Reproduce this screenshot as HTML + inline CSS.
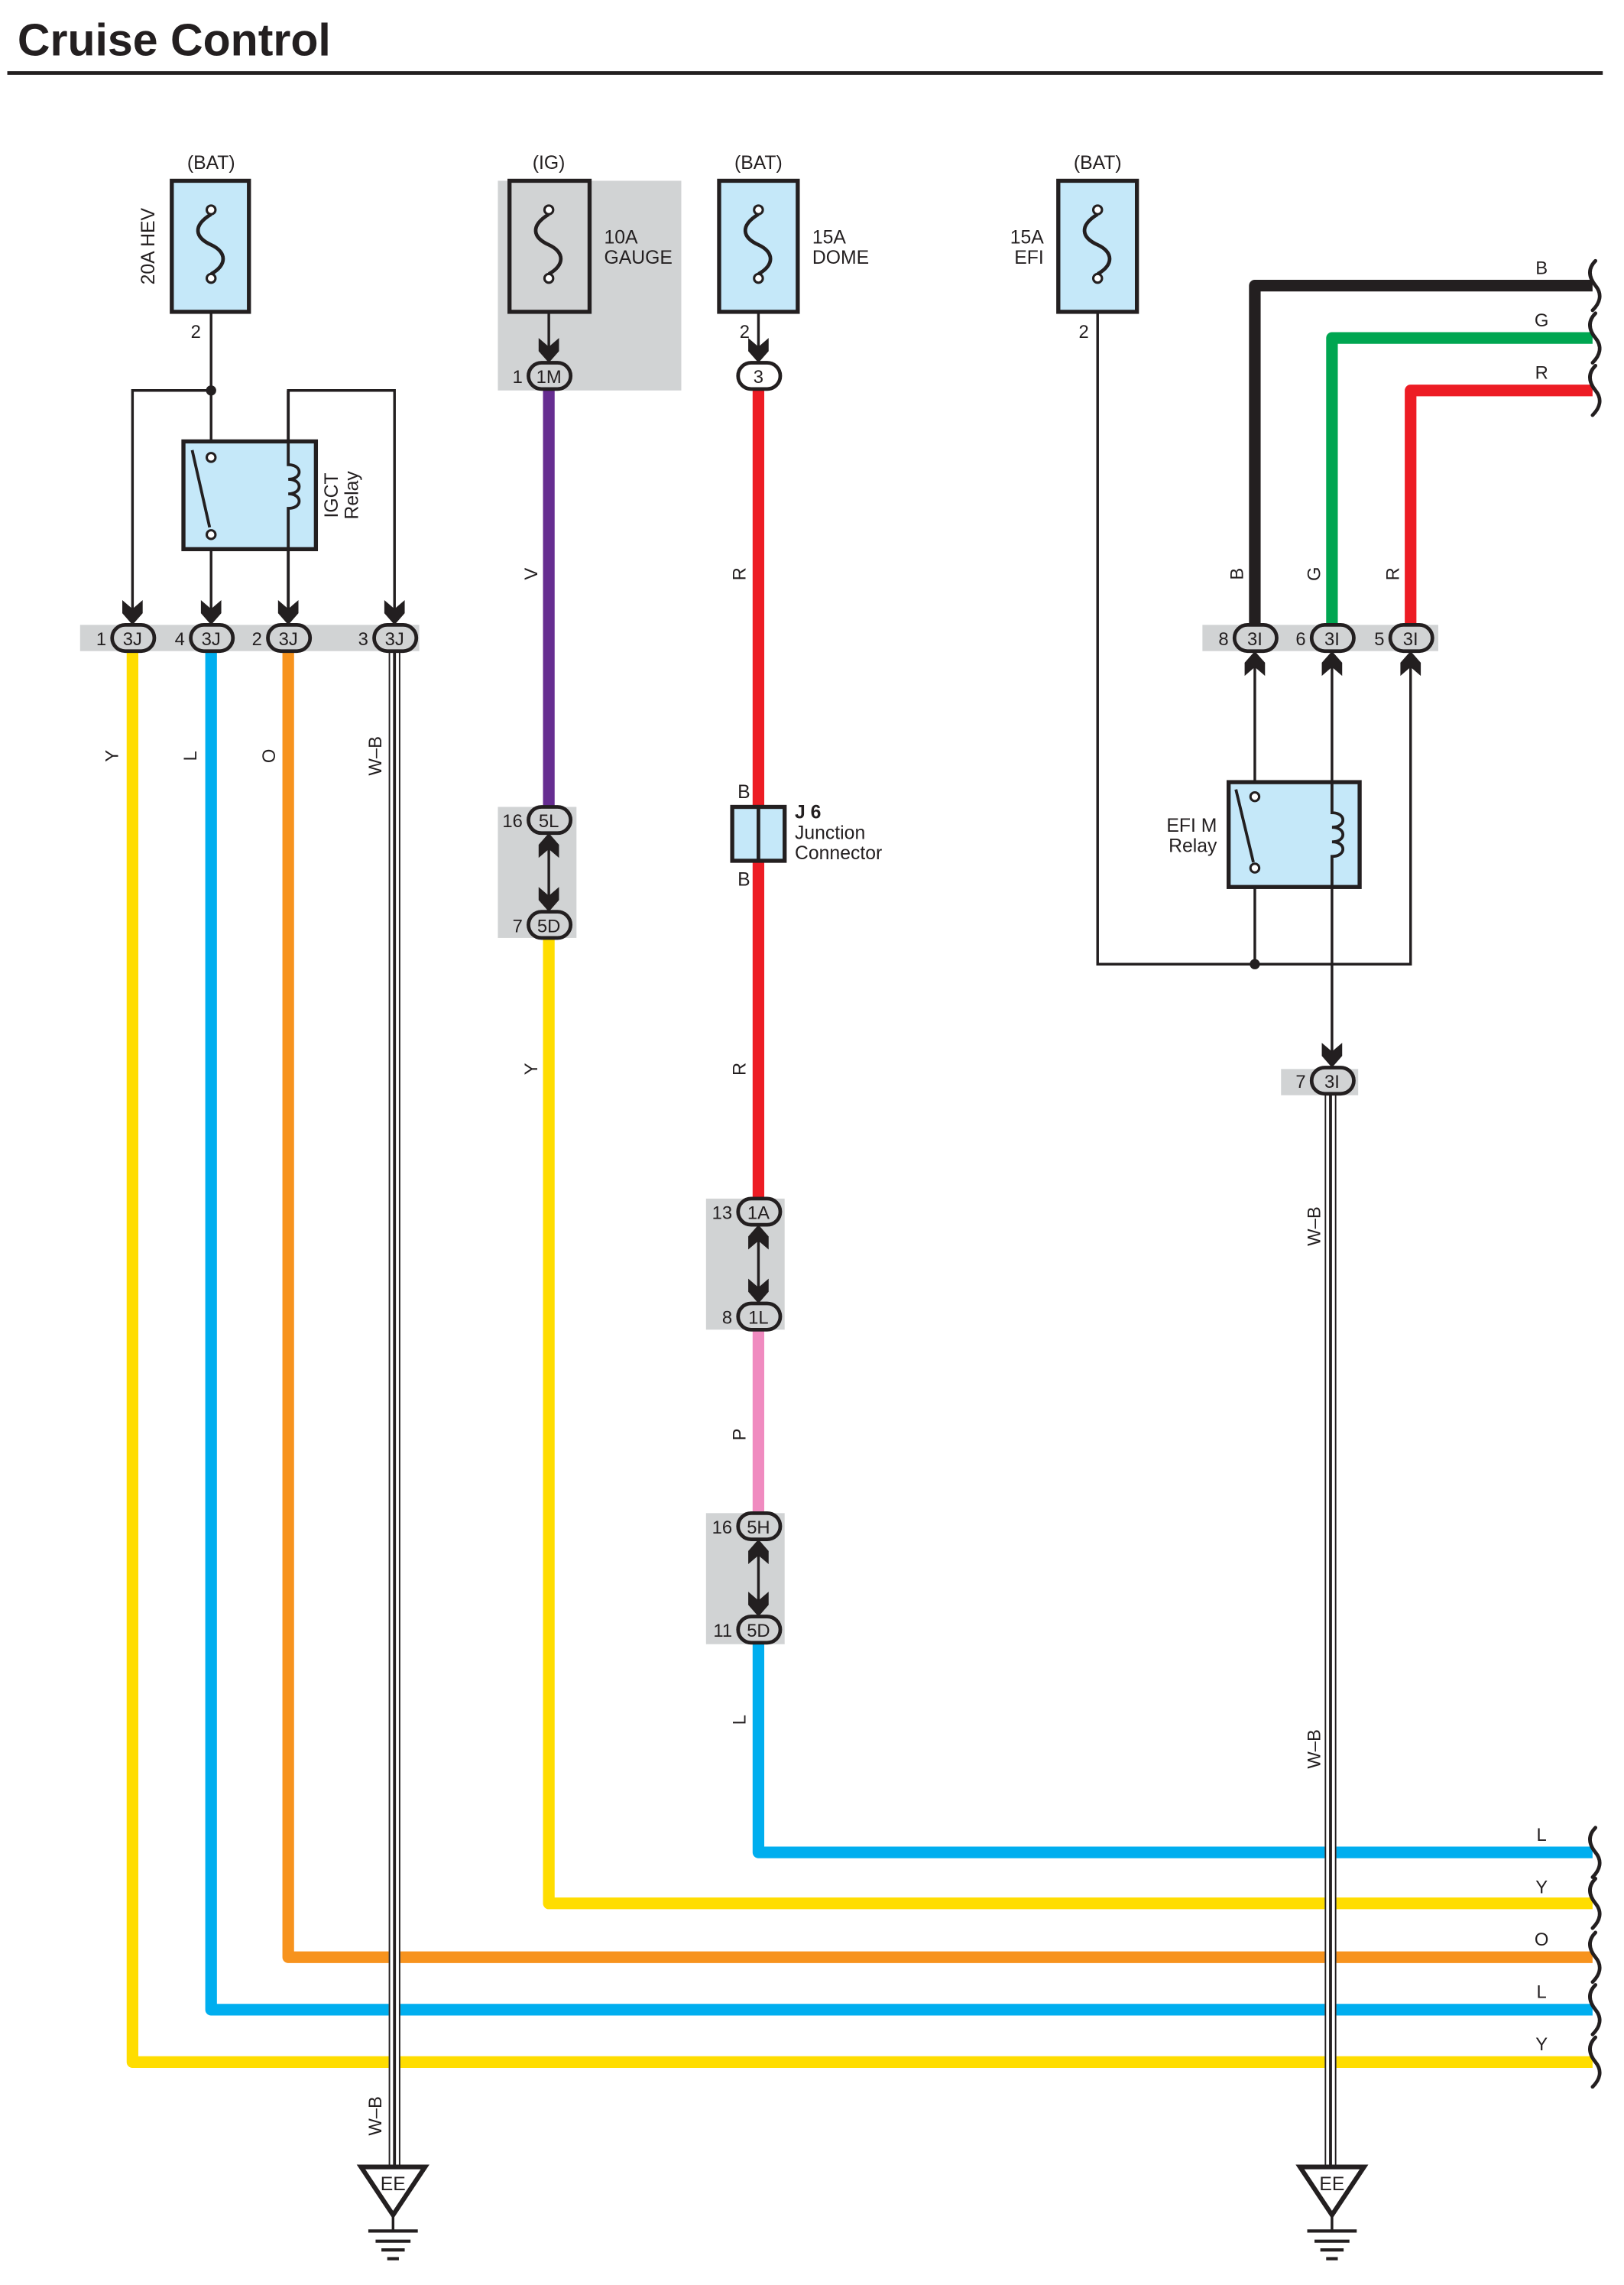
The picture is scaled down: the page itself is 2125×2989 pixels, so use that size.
<!DOCTYPE html>
<html><head><meta charset="utf-8"><style>
html,body{margin:0;padding:0;background:#fff;}
svg{display:block;}
text{font-family:"Liberation Sans",sans-serif;fill:#231f20;}
</style></head><body>
<svg width="2125" height="2989" viewBox="0 0 1100 1547" xmlns="http://www.w3.org/2000/svg">
<g transform="translate(1,1) scale(0.986)">
<text x="11" y="37" font-size="31" font-weight="bold">Cruise Control</text>
<line x1="4" y1="49" x2="1100" y2="49" stroke="#231f20" stroke-width="2.5"/>

<g font-size="13" text-anchor="middle">
<text x="144" y="115">(BAT)</text>
<text x="376" y="115">(IG)</text>
<text x="520" y="115">(BAT)</text>
<text x="753" y="115">(BAT)</text>
</g>

<rect x="341" y="123" width="126" height="144" fill="#d1d3d4"/>
<rect x="54" y="428" width="233" height="18" fill="#d1d3d4"/>
<rect x="825" y="428" width="162" height="18" fill="#d1d3d4"/>
<rect x="341" y="553" width="54" height="90" fill="#d1d3d4"/>
<rect x="484" y="822" width="54" height="90" fill="#d1d3d4"/>
<rect x="484" y="1038" width="54" height="90" fill="#d1d3d4"/>
<rect x="879" y="733" width="53" height="18" fill="#d1d3d4"/>

<g fill="none" stroke-width="8" stroke-linejoin="round" stroke-linecap="butt">
<path d="M90,446 V1415 H1093" stroke="#ffdd00"/>
<path d="M144,446 V1379 H1093" stroke="#00aeef"/>
<path d="M197,446 V1343 H1093" stroke="#f7931e"/>
<path d="M376,266 V555" stroke="#662d91"/>
<path d="M376,643 V1306 H1093" stroke="#ffdd00"/>
<path d="M520,266 V555 M520,590 V824" stroke="#ed1c24"/>
<path d="M520,912 V1040" stroke="#f08bc0"/>
<path d="M520,1128 V1271 H1093" stroke="#00aeef"/>
<path d="M861,428 V195 H1093" stroke="#231f20"/>
<path d="M914,428 V231 H1093" stroke="#00a651"/>
<path d="M968,428 V267 H1093" stroke="#ed1c24"/>
</g>

<g>
<rect x="266" y="446" width="8" height="1040" fill="#fff"/>
<line x1="266.5" y1="446" x2="266.5" y2="1486" stroke="#231f20" stroke-width="1"/>
<line x1="273.5" y1="446" x2="273.5" y2="1486" stroke="#231f20" stroke-width="1"/>
<line x1="270" y1="446" x2="270" y2="1486" stroke="#231f20" stroke-width="2"/>
<rect x="909" y="750" width="8" height="736" fill="#fff"/>
<line x1="909.5" y1="750" x2="909.5" y2="1486" stroke="#231f20" stroke-width="1"/>
<line x1="916.5" y1="750" x2="916.5" y2="1486" stroke="#231f20" stroke-width="1"/>
<line x1="913" y1="750" x2="913" y2="1486" stroke="#231f20" stroke-width="2"/>
</g>

<g fill="none" stroke="#231f20" stroke-width="1.8">
<path d="M144,190 V313"/>
<path d="M144,366 V420"/>
<path d="M90,420 V267 H144"/>
<path d="M197,420 V267 H270 V420"/>
<path d="M376,190 V240"/>
<path d="M520,190 V240"/>
<path d="M753,190 V661 H968 V455"/>
<path d="M861,661 V595"/>
<path d="M861,546 V455"/>
<path d="M914,446 V724"/>
<path d="M376,575 V620"/>
<path d="M520,843 V890"/>
<path d="M520,1059 V1105"/>
</g>
<circle cx="144" cy="267" r="3.5" fill="#231f20"/>
<circle cx="861" cy="661" r="3.5" fill="#231f20"/>

<g stroke="#231f20" stroke-width="2.8">
<rect x="117" y="123" width="53" height="90" fill="#c5e8f9"/>
<rect x="349" y="123" width="55" height="90" fill="#d1d3d4"/>
<rect x="493" y="123" width="54" height="90" fill="#c5e8f9"/>
<rect x="726" y="123" width="54" height="90" fill="#c5e8f9"/>
</g>
<g fill="none" stroke="#231f20" stroke-width="2.5">
<path d="M144,146 C131,154 133,162 144,167 C155,172 155,181 144,187"/>
<path d="M376,146 C363,154 365,162 376,167 C387,172 387,181 376,187"/>
<path d="M520,146 C507,154 509,162 520,167 C531,172 531,181 520,187"/>
<path d="M753,146 C740,154 742,162 753,167 C764,172 764,181 753,187"/>
</g>
<g fill="#fff" stroke="#231f20" stroke-width="1.6">
<circle cx="144" cy="143" r="3"/><circle cx="144" cy="190" r="3"/>
<circle cx="376" cy="143" r="3"/><circle cx="376" cy="190" r="3"/>
<circle cx="520" cy="143" r="3"/><circle cx="520" cy="190" r="3"/>
<circle cx="753" cy="143" r="3"/><circle cx="753" cy="190" r="3"/>
</g>

<rect x="125" y="302" width="91" height="74" fill="#c5e8f9" stroke="#231f20" stroke-width="2.8"/>
<path d="M197,267 V318 c10,0 10,10 0,10 c10,0 10,10 0,10 c10,0 10,10 0,10 V420" fill="none" stroke="#231f20" stroke-width="2"/>
<line x1="131" y1="308" x2="143" y2="361" stroke="#231f20" stroke-width="2"/>
<circle cx="144" cy="313" r="3" fill="#fff" stroke="#231f20" stroke-width="1.6"/>
<circle cx="144" cy="366" r="3" fill="#fff" stroke="#231f20" stroke-width="1.6"/>

<rect x="843" y="536" width="90" height="72" fill="#c5e8f9" stroke="#231f20" stroke-width="2.8"/>
<path d="M914,536 V557 c10,0 10,10 0,10 c10,0 10,10 0,10 c10,0 10,10 0,10 V608" fill="none" stroke="#231f20" stroke-width="2"/>
<line x1="848" y1="541" x2="860" y2="591" stroke="#231f20" stroke-width="2"/>
<circle cx="861" cy="546" r="3" fill="#fff" stroke="#231f20" stroke-width="1.6"/>
<circle cx="861" cy="595" r="3" fill="#fff" stroke="#231f20" stroke-width="1.6"/>

<rect x="502" y="553" width="36" height="37" fill="#c5e8f9" stroke="#231f20" stroke-width="2.8"/>
<line x1="520" y1="553" x2="520" y2="590" stroke="#231f20" stroke-width="2.5"/>

<g fill="#231f20">
<polygon points="83,411 90,417 97,411 97,420 90,428 83,420"/>
<polygon points="137,411 144,417 151,411 151,420 144,428 137,420"/>
<polygon points="190,411 197,417 204,411 204,420 197,428 190,420"/>
<polygon points="263,411 270,417 277,411 277,420 270,428 263,420"/>
<polygon points="369,231 376,237 383,231 383,240 376,248 369,240"/>
<polygon points="513,231 520,237 527,231 527,240 520,248 513,240"/>
<polygon points="369,608 376,614 383,608 383,617 376,625 369,617"/>
<polygon points="513,877 520,883 527,877 527,886 520,894 513,886"/>
<polygon points="513,1092 520,1098 527,1092 527,1101 520,1109 513,1101"/>
<polygon points="907,715 914,721 921,715 921,724 914,732 907,724"/>
<polygon points="369,588 376,582 383,588 383,579 376,571 369,579"/>
<polygon points="513,857 520,851 527,857 527,848 520,840 513,848"/>
<polygon points="513,1073 520,1067 527,1073 527,1064 520,1056 513,1064"/>
<polygon points="854,463 861,457 868,463 868,454 861,446 854,454"/>
<polygon points="907,463 914,457 921,463 921,454 914,446 907,454"/>
<polygon points="961,463 968,457 975,463 975,454 968,446 961,454"/>
</g>

<g fill="#d1d3d4" stroke="#231f20" stroke-width="2.5">
<rect x="76" y="428" width="29" height="18" rx="9"/>
<rect x="130" y="428" width="29" height="18" rx="9"/>
<rect x="183" y="428" width="29" height="18" rx="9"/>
<rect x="256" y="428" width="29" height="18" rx="9"/>
<rect x="362" y="248" width="29" height="18" rx="9"/>
<rect x="506" y="248" width="29" height="18" rx="9" fill="#fff"/>
<rect x="362" y="553" width="29" height="18" rx="9"/>
<rect x="362" y="625" width="29" height="18" rx="9"/>
<rect x="506" y="822" width="29" height="18" rx="9"/>
<rect x="506" y="894" width="29" height="18" rx="9"/>
<rect x="506" y="1038" width="29" height="18" rx="9"/>
<rect x="506" y="1109" width="29" height="18" rx="9"/>
<rect x="847" y="428" width="29" height="18" rx="9"/>
<rect x="900" y="428" width="29" height="18" rx="9"/>
<rect x="954" y="428" width="29" height="18" rx="9"/>
<rect x="900" y="732" width="29" height="18" rx="9"/>
</g>
<g font-size="12.5" text-anchor="middle">
<text x="90" y="442">3J</text><text x="144" y="442">3J</text><text x="197" y="442">3J</text><text x="270" y="442">3J</text>
<text x="376" y="262">1M</text><text x="520" y="262">3</text>
<text x="376" y="567">5L</text><text x="376" y="639">5D</text>
<text x="520" y="836">1A</text><text x="520" y="908">1L</text>
<text x="520" y="1052">5H</text><text x="520" y="1123">5D</text>
<text x="861" y="442">3I</text><text x="914" y="442">3I</text><text x="968" y="442">3I</text>
<text x="914" y="746">3I</text>
</g>
<g font-size="12.5" text-anchor="end">
<text x="72" y="442">1</text><text x="126" y="442">4</text><text x="179" y="442">2</text><text x="252" y="442">3</text>
<text x="358" y="262">1</text>
<text x="358" y="567">16</text><text x="358" y="639">7</text>
<text x="502" y="836">13</text><text x="502" y="908">8</text>
<text x="502" y="1052">16</text><text x="502" y="1123">11</text>
<text x="843" y="442">8</text><text x="896" y="442">6</text><text x="950" y="442">5</text>
<text x="896" y="746">7</text>
<text x="137" y="231">2</text><text x="514" y="231">2</text><text x="747" y="231">2</text>
</g>

<g font-size="13">
<text x="414" y="166">10A</text><text x="414" y="180">GAUGE</text>
<text x="557" y="166">15A</text><text x="557" y="180">DOME</text>
<text x="716" y="166" text-anchor="end">15A</text><text x="716" y="180" text-anchor="end">EFI</text>
<text x="835" y="570" text-anchor="end">EFI M</text><text x="835" y="584" text-anchor="end">Relay</text>
<text x="545" y="561" font-weight="bold">J 6</text>
<text x="545" y="575">Junction</text><text x="545" y="589">Connector</text>
<text x="510" y="547" text-anchor="middle">B</text>
<text x="510" y="607" text-anchor="middle">B</text>
<text transform="translate(105,168) rotate(-90)" text-anchor="middle">20A HEV</text>
<text transform="translate(231,339) rotate(-90)" text-anchor="middle">IGCT</text>
<text transform="translate(245,339) rotate(-90)" text-anchor="middle">Relay</text>
</g>

<g font-size="12.5" text-anchor="middle">
<text transform="translate(80,518) rotate(-90)">Y</text>
<text transform="translate(134,518) rotate(-90)">L</text>
<text transform="translate(188,518) rotate(-90)">O</text>
<text transform="translate(261,518) rotate(-90)">W–B</text>
<text transform="translate(368,393) rotate(-90)">V</text>
<text transform="translate(368,733) rotate(-90)">Y</text>
<text transform="translate(511,393) rotate(-90)">R</text>
<text transform="translate(511,733) rotate(-90)">R</text>
<text transform="translate(511,984) rotate(-90)">P</text>
<text transform="translate(511,1180) rotate(-90)">L</text>
<text transform="translate(853,393) rotate(-90)">B</text>
<text transform="translate(906,393) rotate(-90)">G</text>
<text transform="translate(960,393) rotate(-90)">R</text>
<text transform="translate(906,841) rotate(-90)">W–B</text>
<text transform="translate(906,1200) rotate(-90)">W–B</text>
<text transform="translate(261,1452) rotate(-90)">W–B</text>
</g>
<g font-size="12.5" text-anchor="middle">
<text x="1058" y="187">B</text><text x="1058" y="223">G</text><text x="1058" y="259">R</text>
<text x="1058" y="1263">L</text><text x="1058" y="1299">Y</text><text x="1058" y="1335">O</text>
<text x="1058" y="1371">L</text><text x="1058" y="1407">Y</text>
</g>

<g fill="none" stroke="#231f20" stroke-width="2.5" stroke-linecap="round">
<path d="M1095,178 C1089,184 1091,190 1095,195 C1100,201 1098,207 1093,212"/>
<path d="M1095,214 C1089,220 1091,226 1095,231 C1100,237 1098,243 1093,248"/>
<path d="M1095,250 C1089,256 1091,262 1095,267 C1100,273 1098,279 1093,284"/>
<path d="M1095,1254 C1089,1260 1091,1266 1095,1271 C1100,1277 1098,1283 1093,1288"/>
<path d="M1095,1289 C1089,1295 1091,1301 1095,1306 C1100,1312 1098,1318 1093,1323"/>
<path d="M1095,1326 C1089,1332 1091,1338 1095,1343 C1100,1349 1098,1355 1093,1360"/>
<path d="M1095,1362 C1089,1368 1091,1374 1095,1379 C1100,1385 1098,1391 1093,1396"/>
<path d="M1095,1398 C1089,1404 1091,1410 1095,1415 C1100,1421 1098,1427 1093,1432"/>
</g>

<g stroke="#231f20" fill="none">
<polygon points="247,1487 291,1487 269,1520" fill="#fff" stroke-width="3.2"/>
<line x1="269" y1="1520" x2="269" y2="1530" stroke-width="1.8"/>
<line x1="252" y1="1531" x2="286" y2="1531" stroke-width="2.2"/>
<line x1="257" y1="1538" x2="281" y2="1538" stroke-width="2.2"/>
<line x1="261" y1="1544" x2="277" y2="1544" stroke-width="2.2"/>
<line x1="265" y1="1550" x2="273" y2="1550" stroke-width="2.2"/>
<polygon points="892,1487 936,1487 914,1520" fill="#fff" stroke-width="3.2"/>
<line x1="914" y1="1520" x2="914" y2="1530" stroke-width="1.8"/>
<line x1="897" y1="1531" x2="931" y2="1531" stroke-width="2.2"/>
<line x1="902" y1="1538" x2="926" y2="1538" stroke-width="2.2"/>
<line x1="906" y1="1544" x2="922" y2="1544" stroke-width="2.2"/>
<line x1="910" y1="1550" x2="918" y2="1550" stroke-width="2.2"/>
</g>
<g font-size="13" text-anchor="middle">
<text x="269" y="1503">EE</text>
<text x="914" y="1503">EE</text>
</g>
</g>
</svg>
</body></html>
